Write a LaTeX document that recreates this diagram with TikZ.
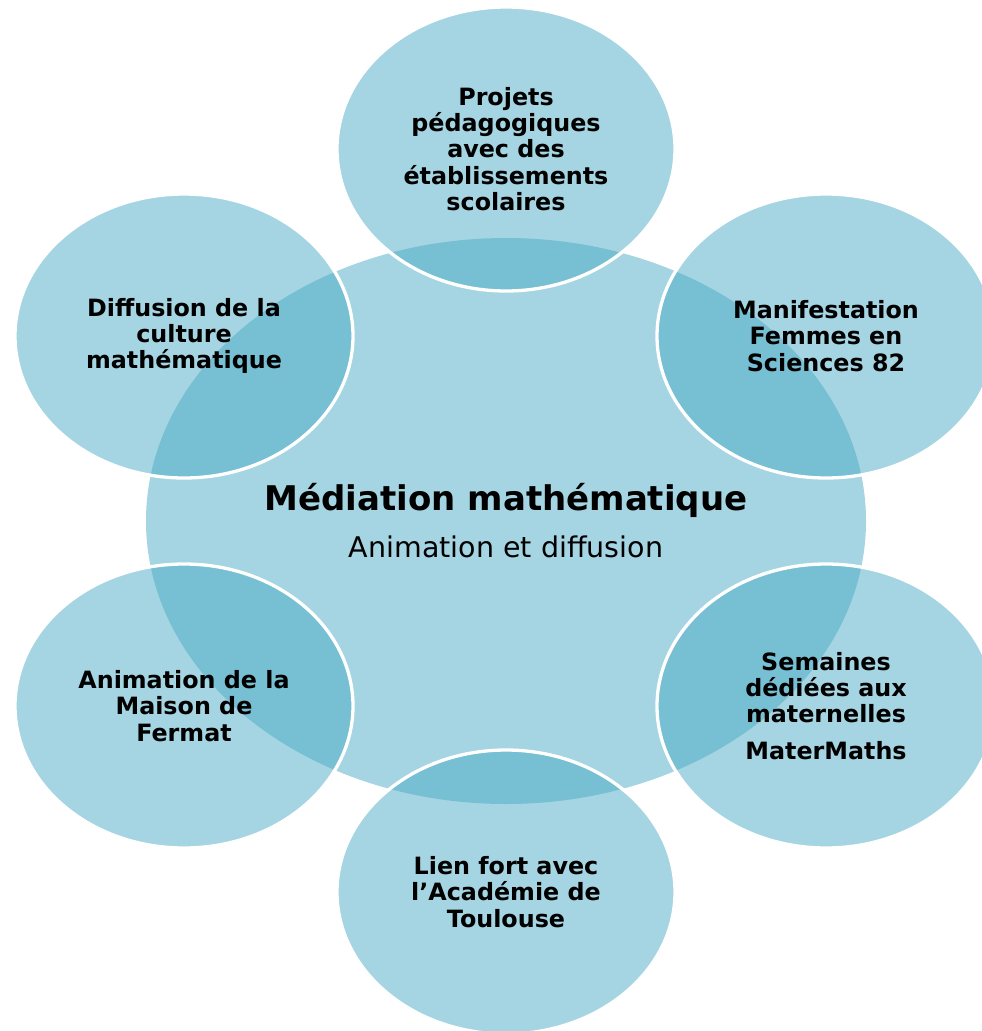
\documentclass[tikz,border=0pt]{standalone}
\usepackage{fontspec}
\setmainfont{DejaVu Sans}
\usetikzlibrary{shapes.geometric}
\definecolor{lightb}{RGB}{165,213,226}
\definecolor{outerb}{RGB}{75,171,197}
\tikzset{
  core/.style={ellipse, fill=lightb, minimum width=720pt, minimum height=566pt, inner sep=0pt},
  petal/.style={ellipse, fill=outerb, fill opacity=0.5, text opacity=1, draw=white, line width=3.3pt,
    minimum width=338pt, minimum height=284pt, inner sep=0pt, align=center,
    font=\fontsize{23.8}{26.2}\selectfont\bfseries},
  titletext/.style={font=\fontsize{34}{38}\selectfont\bfseries, anchor=base},
  subtext/.style={font=\fontsize{28.5}{32}\selectfont, anchor=base},
}
\begin{document}
\begin{tikzpicture}[x=1pt,y=-1pt]
\useasboundingbox (0,0) rectangle (982,1031);
\node[core] (c) at (506,521) {};
\node[titletext] (title) at (506,510) {Médiation mathématique};
\node[subtext] (sub) at (506,557) {Animation et diffusion};
\node[petal] (p1) at (506,149) {Projets\\pédagogiques\\avec des\\établissements\\scolaires};
\node[petal] (p2) at (826,336) {Manifestation\\Femmes en\\Sciences 82};
\node[petal] (p3) at (826,706) {Semaines\\dédiées aux\\maternelles\\[10pt]MaterMaths};
\node[petal] (p4) at (506,892) {Lien fort avec\\l’Académie de\\Toulouse};
\node[petal] (p5) at (184,706) {Animation de la\\Maison de\\Fermat};
\node[petal] (p6) at (184,336) {Diffusion de la\\culture\\mathématique};
\end{tikzpicture}
\end{document}
